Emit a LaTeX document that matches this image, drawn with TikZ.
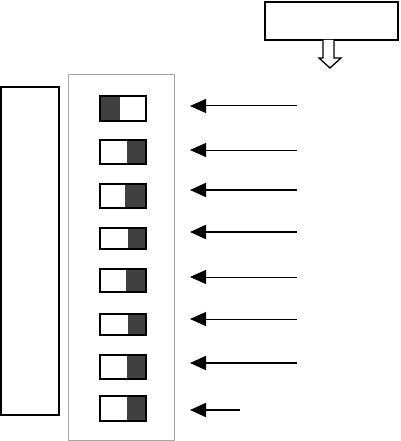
\documentclass[tikz,border=0pt]{standalone}
\usetikzlibrary{arrows.meta}
\begin{document}
\begin{tikzpicture}[x=1pt,y=-1pt,
  boxthick/.style={draw=black,line width=2pt,fill=white},
  panel/.style={draw=black!35,line width=1pt},
  swframe/.style={draw=black,line width=1.3pt},
  swdark/.style={fill=black!75},
  inarrow/.style={-{Triangle[length=16pt,width=14pt]},draw=black},
  thinw/.style={line width=1pt},
  thickw/.style={line width=2pt},
  hollow/.style={draw=black,line width=1.3pt,fill=white,line join=miter}]
\useasboundingbox (0,0) rectangle (400,441);
% top box
\draw[boxthick] (265,2) rectangle (398,40);
% hollow down arrow
\draw[hollow] (323,40) -- (323,58) -- (319,58) -- (330,68) -- (341,58) -- (334,58) -- (334,40);
% left box
\draw[boxthick] (1,87) rectangle (59,415);
% panel
\draw[panel] (68,75) rectangle (174,440);
% switches
\foreach \n/\t/\b/\da/\db in {1/96/121/100/120, 2/140/164/127/146, 3/184/208/125/146, 4/228/249/128/146, 5/269/292/126/146, 6/314/335/128/146, 7/355/379/127/146, 8/396/421/127/146}{
  \fill[swdark] (\da,\t) rectangle (\db,\b);
  \draw[swframe] (100,\t) rectangle (146,\b);
}
% arrows
\foreach \n/\y/\xe/\w in {1/106/297/thinw, 2/150/297/thinw, 3/190/297/thickw, 4/232/297/thickw, 5/277/297/thinw, 6/319/297/thinw, 7/363/297/thickw, 8/410/240/thickw}{
  \coordinate (as\n) at (\xe,\y);
  \coordinate (ae\n) at (190,\y);
  \draw[inarrow,\w] (as\n) -- (ae\n);
}
\end{tikzpicture}
\end{document}
